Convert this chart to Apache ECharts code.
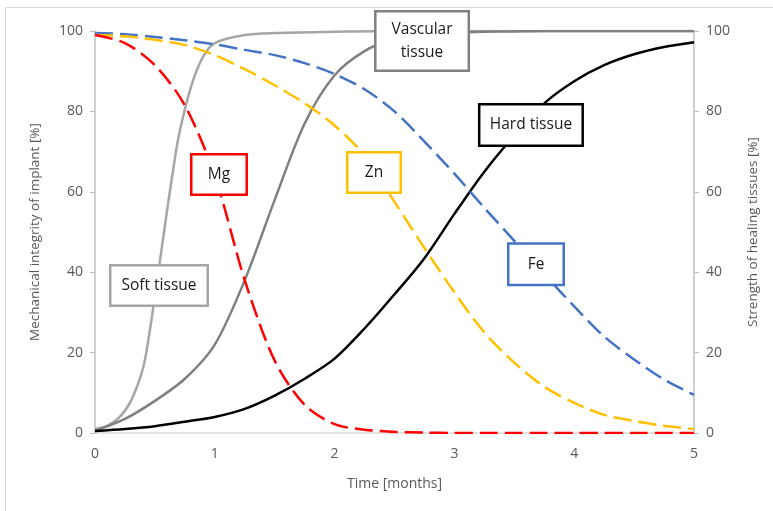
<!DOCTYPE html>
<html>
<head>
<meta charset="utf-8">
<title>Implant degradation vs tissue healing</title>
<script src="https://cdn.jsdelivr.net/npm/echarts@6/dist/echarts.min.js"></script>
<style>
  html, body { margin: 0; padding: 0; background: #fff; }
  #chart { width: 773px; height: 511px; }
</style>
</head>
<body>
<div id="chart"></div>
<script>
// Time in months
const months = [0, 0.25, 0.5, 0.75, 1, 1.25, 1.5, 1.75, 2, 2.25, 2.5, 2.75, 3, 3.25, 3.5, 3.75, 4, 4.25, 4.5, 4.75, 5];

// Mechanical integrity of the implant [%]
const mg = [99, 97, 91.5, 81.5, 64, 38, 18, 7, 2.2, 0.8, 0.3, 0.1, 0, 0, 0, 0, 0, 0, 0, 0, 0];
const zn = [99, 98.7, 97.8, 96.5, 94, 90.5, 86.5, 82, 76.5, 69, 57.5, 46, 35, 25, 17.5, 11.5, 7.5, 4.5, 3, 1.8, 1];
const fe = [99.5, 99.2, 98.5, 97.7, 96.7, 95.3, 94, 92, 89.3, 85.5, 80, 72.5, 64.5, 56, 47.8, 39.5, 31.5, 24, 18.3, 13.3, 9.5];

// Strength of healing tissues [%]
const softMonths = [0, 0.1, 0.2, 0.3, 0.4, 0.45, 0.5, 0.55, 0.6, 0.65, 0.7, 0.8, 0.9, 1, 1.25, 1.5, 2, 2.5, 3, 3.5, 4, 4.5, 5];
const softTissue = [1, 1.8, 3.8, 8, 16, 24, 34, 44.5, 55, 65, 74, 86, 93.5, 97, 99, 99.5, 99.8, 100, 100, 100, 100, 100, 100];
const vascularTissue = [0.5, 3.5, 8, 13.5, 22, 38, 58, 77, 89, 95, 98, 99.2, 99.6, 99.8, 99.9, 100, 100, 100, 100, 100, 100];
const hardTissue = [0.5, 1, 1.7, 2.8, 4, 6, 9.3, 13.5, 18.5, 26, 34.5, 43.5, 54.5, 65, 74, 82, 87.5, 91.5, 94.2, 96, 97.2];

// Axis ticks
const yTicks = [0, 20, 40, 60, 80, 100];
const xTicks = [0, 1, 2, 3, 4, 5];

// Callout labels: [text, month, value]
const callouts = [
  ['Mg', 1.035, 64.3],
  ['Soft tissue', 0.534, 36.7],
  ['Zn', 2.329, 64.8],
  ['Fe', 3.681, 42],
  ['Hard tissue', 3.639, 76.6],
  ['Vascular\ntissue', 2.73, 97.5]
];

const pair = (xs, ys) => xs.map((x, i) => [x, ys[i]]);

const calloutStyle = {
  'Mg': { color: '#ff0000', size: [58, 43] },
  'Soft tissue': { color: '#a6a6a6', size: [100, 43] },
  'Zn': { color: '#ffc000', size: [56, 43] },
  'Fe': { color: '#4472c4', size: [58, 44] },
  'Hard tissue': { color: '#000000', size: [106, 44] },
  'Vascular\ntissue': { color: '#808080', size: [96, 62] }
};

const FONT = 'Open Sans';

// A callout box is the label of an invisible marker, so its border is a true rectangle
function calloutPoint(c) {
  const st = calloutStyle[c[0]];
  const bw = 2.5;
  return {
    coord: [c[1], c[2]],
    symbol: 'circle',
    symbolSize: 1,
    itemStyle: { color: 'rgba(0,0,0,0)' },
    label: {
      show: true, position: 'inside', formatter: c[0],
      width: st.size[0] - 2 * bw, height: st.size[1] - 2 * bw,
      align: 'center', verticalAlign: 'middle',
      backgroundColor: '#ffffff', borderColor: st.color, borderWidth: bw,
      color: '#1a1a1a', fontSize: 15.5, lineHeight: 23,
      fontFamily: FONT
    }
  };
}

const dash = { type: [18, 7] };
const SMOOTH = 0.3;

const chart = echarts.init(document.getElementById('chart'));
chart.setOption({
  animation: false,
  backgroundColor: '#ffffff',
  grid: { left: 95, right: 79, top: 31, bottom: 78 },
  graphic: [{
    type: 'rect', silent: true, z: -10,
    shape: { x: 5.5, y: 7.5, width: 900, height: 700 },
    style: { fill: 'none', stroke: '#d9d9d9', lineWidth: 1 }
  }],
  xAxis: {
    type: 'value', min: 0, max: 5, interval: 1,
    name: 'Time [months]', nameLocation: 'middle', nameGap: 44,
    nameTextStyle: { color: '#595959', fontSize: 14, fontFamily: FONT },
    axisLine: { show: true, lineStyle: { color: '#d9d9d9', width: 1.5 } },
    axisTick: { show: false },
    splitLine: { show: false },
    axisLabel: {
      color: '#595959', fontSize: 14, fontFamily: FONT, margin: 14,
      formatter: v => (xTicks.indexOf(v) >= 0 ? String(v) : '')
    }
  },
  yAxis: [{
    type: 'value', min: 0, max: 100, interval: 20, position: 'left',
    name: 'Mechanical integrity of implant [%]', nameLocation: 'middle', nameGap: 53,
    nameTextStyle: { color: '#595959', fontSize: 13.5, fontFamily: FONT },
    axisLine: { show: true, lineStyle: { color: '#bfbfbf', width: 1.5 } },
    axisTick: { show: true, length: 5, lineStyle: { color: '#bfbfbf' } },
    splitLine: { show: false },
    axisLabel: {
      color: '#595959', fontSize: 14, fontFamily: FONT, margin: 12,
      formatter: v => (yTicks.indexOf(v) >= 0 ? String(v) : '')
    }
  }, {
    type: 'value', min: 0, max: 100, interval: 20, position: 'right',
    name: 'Strength of healing tissues [%]', nameLocation: 'middle', nameGap: 52,
    nameRotate: 90,
    nameTextStyle: { color: '#595959', fontSize: 13.5, fontFamily: FONT },
    axisLine: { show: true, lineStyle: { color: '#bfbfbf', width: 1.5 } },
    axisTick: { show: true, length: 5, lineStyle: { color: '#bfbfbf' } },
    splitLine: { show: false },
    axisLabel: {
      color: '#595959', fontSize: 14, fontFamily: FONT, margin: 12,
      formatter: v => (yTicks.indexOf(v) >= 0 ? String(v) : '')
    }
  }],
  series: [
    {
      name: 'Soft tissue', type: 'line', yAxisIndex: 1, data: pair(softMonths, softTissue),
      smooth: SMOOTH, showSymbol: false,
      lineStyle: { color: '#a6a6a6', width: 2.5 }
    },
    {
      name: 'Vascular tissue', type: 'line', yAxisIndex: 1, data: pair(months, vascularTissue),
      smooth: SMOOTH, showSymbol: false,
      lineStyle: { color: '#808080', width: 2.5 }
    },
    {
      name: 'Hard tissue', type: 'line', yAxisIndex: 1, data: pair(months, hardTissue),
      smooth: SMOOTH, showSymbol: false,
      lineStyle: { color: '#000000', width: 2.5 }
    },
    {
      name: 'Fe', type: 'line', yAxisIndex: 0, data: pair(months, fe),
      smooth: SMOOTH, showSymbol: false,
      lineStyle: Object.assign({ color: '#4472c4', width: 2.5 }, dash)
    },
    {
      name: 'Zn', type: 'line', yAxisIndex: 0, data: pair(months, zn),
      smooth: SMOOTH, showSymbol: false,
      lineStyle: Object.assign({ color: '#ffc000', width: 2.5 }, dash)
    },
    {
      name: 'Mg', type: 'line', yAxisIndex: 0, data: pair(months, mg),
      smooth: SMOOTH, showSymbol: false,
      lineStyle: Object.assign({ color: '#ff0000', width: 2.5 }, dash),
      markPoint: {
        z: 20, silent: true, animation: false,
        data: callouts.map(calloutPoint)
      }
    }
  ]
});
</script>
</body>
</html>
